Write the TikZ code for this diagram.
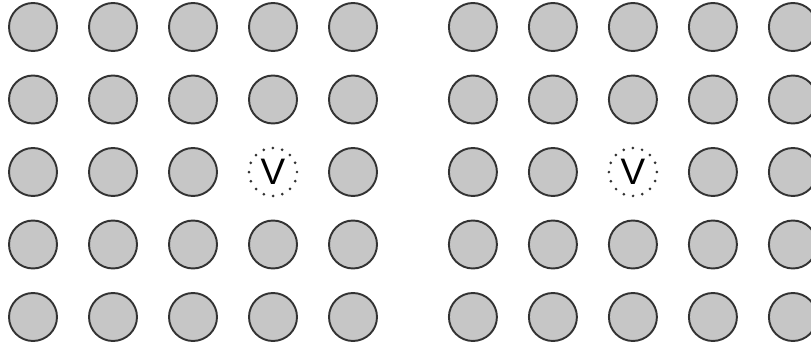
\documentclass[tikz,border=0pt]{standalone}
\usepackage{fontspec}
\setsansfont{Liberation Sans}
\usetikzlibrary{positioning}

\begin{document}
\begin{tikzpicture}[x=0.02cm, y=0.02cm,
    atom/.style={circle, draw=black!80, fill=gray!45, line width=1.1pt,
        minimum size=0.96cm, inner sep=0pt},
    vacancy/.style={circle, draw=black!80, line width=1.7pt, line cap=round,
        dash pattern=on 0pt off 5.36pt, minimum size=0.96cm, inner sep=0pt,
        font=\sffamily\fontsize{21}{21}\selectfont}]

    \useasboundingbox (0,0) rectangle (811,345);
    \clip (0,0) rectangle (811,345);

    % =================================================================
    % LEFT LATTICE: VACANCY IN ROW 3, COLUMN 4
    % =================================================================
    \begin{scope}[xshift=0cm, yshift=0cm]
        \foreach \c in {1,...,5}
            \foreach \r in {1,...,5}{
                \ifnum\numexpr\r*10+\c\relax=34 \else
                    \node[atom] (L-\r-\c) at ({33+80*(\c-1)},{318-72.5*(\r-1)}) {};
                \fi
            }
        % Vacancy site
        \node[vacancy] (L-3-4) at (273,173) {V};
    \end{scope}

    % =================================================================
    % RIGHT LATTICE: VACANCY IN ROW 3, COLUMN 3
    % =================================================================
    \begin{scope}[xshift=8.8cm, yshift=0cm]
        \foreach \c in {1,...,5}
            \foreach \r in {1,...,5}{
                \ifnum\numexpr\r*10+\c\relax=33 \else
                    \node[atom] (R-\r-\c) at ({33+80*(\c-1)},{318-72.5*(\r-1)}) {};
                \fi
            }
        % Vacancy site
        \node[vacancy] (R-3-3) at (193,173) {V};
    \end{scope}

\end{tikzpicture}
\end{document}
